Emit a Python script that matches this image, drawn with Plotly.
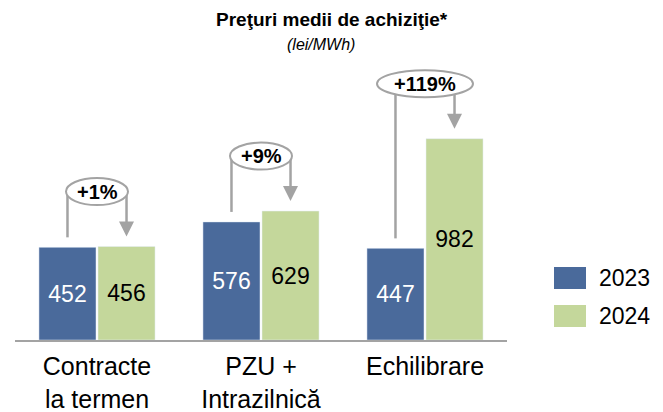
import plotly.graph_objects as go

# ---- data ----
categories = ["Contracte<br>la termen", "PZU +<br>Intrazilnică", "Echilibrare"]
series_names = ["2023", "2024"]
values_2023 = [452, 576, 447]
values_2024 = [456, 629, 982]
change_labels = ["+1%", "+9%", "+119%"]
title_text = "Preţuri medii de achiziţie*"
subtitle_text = "(lei/MWh)"

# ---- style / layout constants ----
W, H = 663, 412
L, R, T, B = 15, 156, 60, 72
PW = W - L - R
PH = H - T - B
PPU_Y = 0.205              # px per data unit (y)
YMAX = PH / PPU_Y
XMIN, XMAX = -0.5, 2.5
PPU_X = PW / (XMAX - XMIN)  # px per category unit (x)
BLUE = "#4a6a9b"
GREEN = "#c4d79b"
GRAY = "#a3a3a3"
FONT = "Liberation Sans, Arial, sans-serif"
BARGAP = 0.28
OFF = (1 - BARGAP) / 4     # bar centre offset inside a group
ELL_W = [62, 62, 96]       # ellipse widths in px
ELL_H = 27


def px_x(p):
    return (p - L) / PW


def px_y(p):
    return (H - B - p) / PH


xs = list(range(len(categories)))

fig = go.Figure()
fig.add_trace(go.Bar(
    x=xs, y=values_2023, name=series_names[0], marker_color=BLUE,
    text=values_2023, textposition="inside", insidetextanchor="middle",
    textangle=0, constraintext="none",
    textfont=dict(color="white", size=23, family=FONT),
))
fig.add_trace(go.Bar(
    x=xs, y=values_2024, name=series_names[1], marker_color=GREEN,
    text=values_2024, textposition="inside", insidetextanchor="middle",
    textangle=0, constraintext="none",
    textfont=dict(color="black", size=23, family=FONT),
))

shapes = []
annotations = []
gap = 10 / PPU_Y
head_len = 15 / PPU_Y
head_hw = 7.5 / PPU_X
for i, (a, b, lab) in enumerate(zip(values_2023, values_2024, change_labels)):
    xl, xr = i - OFF, i + OFF
    yc = max(a, b) + 55 / PPU_Y
    line = dict(color=GRAY, width=2.5)
    shapes.append(dict(type="line", xref="x", yref="y", x0=xl, x1=xl,
                       y0=a + gap, y1=yc, line=line, layer="above"))
    shapes.append(dict(type="line", xref="x", yref="y", x0=xr, x1=xr,
                       y0=yc, y1=b + gap + head_len - 1 / PPU_Y, line=line, layer="above"))
    tip = b + gap
    shapes.append(dict(type="path", xref="x", yref="y",
                       path=f"M{xr - head_hw},{tip + head_len} L{xr + head_hw},{tip + head_len} L{xr},{tip} Z",
                       fillcolor=GRAY, line=dict(width=0), layer="above"))
    hw = ELL_W[i] / 2 / PPU_X
    hh = ELL_H / 2 / PPU_Y
    shapes.append(dict(type="circle", xref="x", yref="y", x0=i - hw, x1=i + hw,
                       y0=yc - hh, y1=yc + hh, fillcolor="white",
                       line=dict(color=GRAY, width=2), layer="above"))
    annotations.append(dict(x=i, y=yc, xref="x", yref="y", text=f"<b>{lab}</b>",
                            showarrow=False, font=dict(size=20, color="black", family=FONT),
                            xanchor="center", yanchor="middle"))

# title & subtitle
annotations.append(dict(x=px_x(W / 2), y=px_y(19), xref="paper", yref="paper",
                        text=f"<b>{title_text}</b>", showarrow=False,
                        font=dict(size=19, color="black", family=FONT),
                        xanchor="center", yanchor="middle"))
annotations.append(dict(x=px_x(321), y=px_y(45), xref="paper", yref="paper",
                        text=f"<i>{subtitle_text}</i>", showarrow=False,
                        font=dict(size=16, color="black", family=FONT),
                        xanchor="center", yanchor="middle"))

# manual legend
leg_rows = [(267, 289), (305, 327)]
for (y0, y1), nm, col in zip(leg_rows, series_names, [BLUE, GREEN]):
    shapes.append(dict(type="rect", xref="paper", yref="paper",
                       x0=px_x(554), x1=px_x(586), y0=px_y(y1), y1=px_y(y0),
                       fillcolor=col, line=dict(width=0)))
    annotations.append(dict(x=px_x(597), y=px_y((y0 + y1) / 2), xref="paper", yref="paper",
                            text=nm, showarrow=False, xanchor="left", yanchor="middle",
                            font=dict(size=23, color="black", family=FONT)))

fig.update_layout(
    width=W, height=H,
    margin=dict(l=L, r=R, t=T, b=B, pad=0, autoexpand=False),
    paper_bgcolor="white", plot_bgcolor="white",
    barmode="group", bargap=BARGAP, bargroupgap=0.034,
    showlegend=False,
    shapes=shapes, annotations=annotations,
    font=dict(family=FONT, color="black"),
    xaxis=dict(range=[XMIN, XMAX], tickvals=xs, ticktext=categories,
               showgrid=False, zeroline=False, showline=True,
               linecolor=GRAY, linewidth=2, ticks="", automargin=False,
               tickfont=dict(size=25, color="black", family=FONT),
               ticklabelstandoff=3),
    yaxis=dict(range=[0, YMAX], showgrid=False, zeroline=False, automargin=False,
               showticklabels=False, showline=False, fixedrange=True),
)

fig.write_html("out.html", config={"displayModeBar": False},
               post_script="document.body.style.margin='0';")
